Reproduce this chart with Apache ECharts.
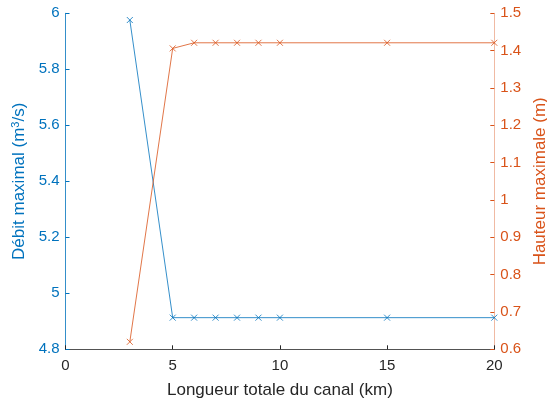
<!DOCTYPE html>
<html><head><meta charset="utf-8">
<script src="https://cdn.jsdelivr.net/npm/echarts@6/dist/echarts.min.js"></script>
<style>html,body{margin:0;padding:0;background:#fff}#c{width:547px;height:403px}</style>
</head><body><div id="c"></div>
<script>
const lengths = [3, 5, 6, 7, 8, 9, 10, 15, 20];
const debitMax = [5.976, 4.913, 4.913, 4.913, 4.913, 4.913, 4.913, 4.913, 4.913];
const hauteurMax = [0.620, 1.406, 1.421, 1.421, 1.421, 1.421, 1.421, 1.421, 1.421];
const xTitle = 'Longueur totale du canal (km)';
const leftTitle = 'Débit maximal (m{sup|3}/s)';
const rightTitle = 'Hauteur maximale (m)';

const BLUE = '#0072BD', ORANGE = '#D95319', GRAY = '#262626';
const FONT = 'Liberation Sans, Arial, sans-serif';
const X = 'path://M0,0L10,10M10,0L0,10';
const chart = echarts.init(document.getElementById('c'));
const fmt = v => String(+v.toFixed(2));
chart.setOption({
  animation: false,
  grid: {left: 65.5, right: 52.7, top: 13.3, bottom: 53.7, containLabel: false, outerBoundsMode: 'none'},
  xAxis: {
    type: 'value', min: 0, max: 20, interval: 5,
    name: xTitle, nameLocation: 'middle', nameGap: 33,
    nameTextStyle: {color: GRAY, fontSize: 17, fontFamily: FONT},
    axisLine: {lineStyle: {color: GRAY, width: 0.8}},
    axisTick: {inside: true, length: 4, lineStyle: {color: GRAY}},
    axisLabel: {color: GRAY, fontSize: 15, fontFamily: FONT, margin: 9},
    splitLine: {show: false}
  },
  yAxis: [{
    type: 'value', min: 4.8, max: 6, interval: 0.2, position: 'left',
    name: leftTitle, nameLocation: 'middle', nameGap: 34,
    nameTextStyle: {color: BLUE, fontSize: 17, fontFamily: FONT,
      rich: {sup: {fontSize: 11, verticalAlign: 'top', color: BLUE, fontFamily: FONT, padding: [0,0,7,0]}}},
    axisLine: {show: true, lineStyle: {color: BLUE, width: 0.8}},
    axisTick: {show: true, inside: true, length: 4, lineStyle: {color: BLUE}},
    axisLabel: {color: BLUE, fontSize: 15, fontFamily: FONT, margin: 6, formatter: fmt},
    splitLine: {show: false}
  }, {
    type: 'value', min: 0.6, max: 1.5, interval: 0.1, position: 'right',
    name: rightTitle, nameLocation: 'middle', nameGap: 37, nameRotate: 90,
    nameTextStyle: {color: ORANGE, fontSize: 17, fontFamily: FONT},
    axisLine: {show: true, lineStyle: {color: ORANGE, width: 0.8, opacity: 0.5}},
    axisTick: {show: true, inside: true, length: 4, lineStyle: {color: ORANGE}},
    axisLabel: {color: ORANGE, fontSize: 15, fontFamily: FONT, margin: 6, formatter: fmt},
    splitLine: {show: false}
  }],
  series: [{
    type: 'line', yAxisIndex: 0,
    data: lengths.map((x, i) => [x, debitMax[i]]),
    symbol: X, symbolSize: 6,
    lineStyle: {color: BLUE, width: 0.8},
    itemStyle: {color: 'none', borderColor: BLUE, borderWidth: 0.8}
  }, {
    type: 'line', yAxisIndex: 1,
    data: lengths.map((x, i) => [x, hauteurMax[i]]),
    symbol: X, symbolSize: 6,
    lineStyle: {color: ORANGE, width: 0.8},
    itemStyle: {color: 'none', borderColor: ORANGE, borderWidth: 0.8}
  }]
});
</script></body></html>
